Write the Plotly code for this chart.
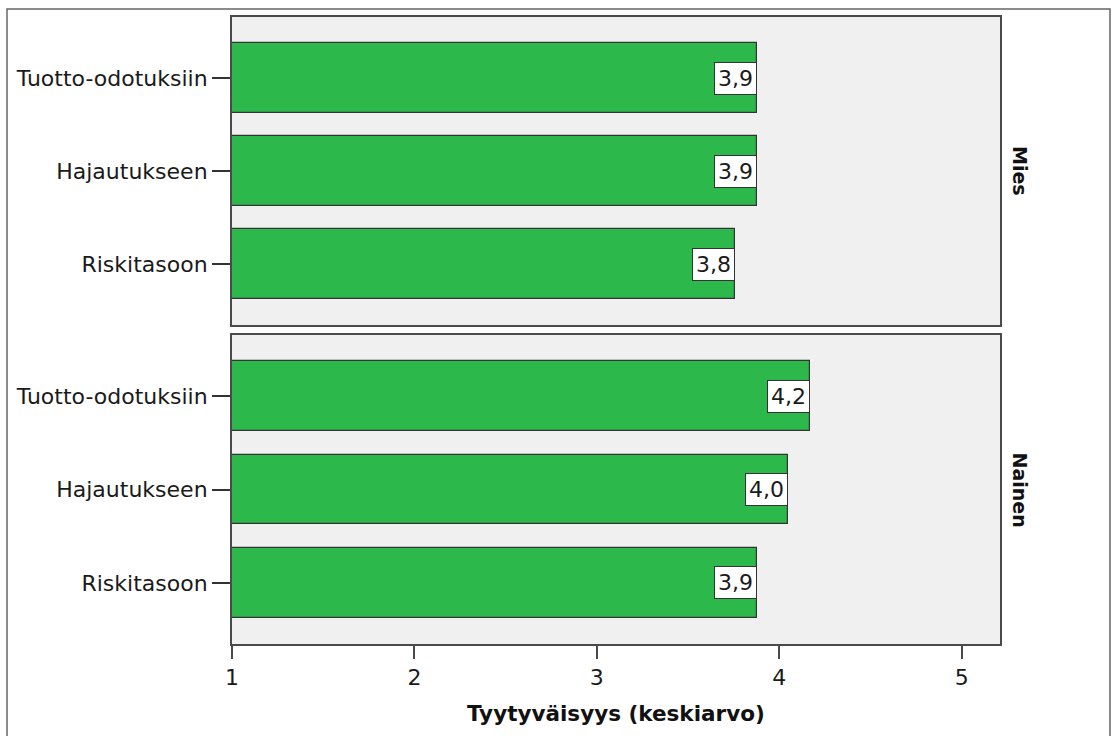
import plotly.graph_objects as go

categories = ["Riskitasoon", "Hajautukseen", "Tuotto-odotuksiin"]
panels = ["Mies", "Nainen"]
mies_values = [3.76, 3.88, 3.88]
nainen_values = [3.88, 4.05, 4.17]
x_ticks = [1, 2, 3, 4, 5]
x_title = "Tyytyväisyys (keskiarvo)"

W, H = 1112, 736
L, R, T, B = 232, 112, 17, 92
ph = H - T - B
top_dom = [(644 - 325) / ph, 1.0]
bot_dom = [0.0, (644 - 335) / ph]

FONT = "DejaVu Sans"
GREEN = "#2db84b"
EDGE = "#4a4a4a"

fig = go.Figure()
series = [(mies_values, "x2", "y2"), (nainen_values, "x", "y")]
for vals, xa, ya in series:
    fig.add_trace(go.Bar(
        x=[v - 1 for v in vals], y=categories, orientation="h", xaxis=xa, yaxis=ya,
        width=0.75, base=1,
        marker=dict(color=GREEN, line=dict(color="#333333", width=1.2)),
        showlegend=False, hoverinfo="skip",
    ))

annotations = []
for vals, xa, ya in series:
    for c, v in zip(categories, vals):
        annotations.append(dict(
            x=v, y=c, xref=xa, yref=ya, text=f"{v:.1f}".replace(".", ","),
            showarrow=False, xanchor="right", yanchor="middle",
            bgcolor="white", bordercolor="#333333", borderwidth=1, borderpad=3,
            font=dict(family=FONT, size=22, color="#1a1a1a"),
        ))

for name, ya in zip(panels, ["y2", "y"]):
    annotations.append(dict(
        x=(1020 - L) / (W - L - R), y=0.5, xref="paper", yref=f"{ya} domain",
        text=f"<b>{name}</b>", showarrow=False, textangle=90,
        xanchor="center", yanchor="middle",
        font=dict(family=FONT, size=19, color="#111111"),
    ))

annotations.append(dict(
    x=0.5, y=(644 - 713) / ph, xref="paper", yref="paper",
    text=f"<b>{x_title}</b>", showarrow=False, xanchor="center", yanchor="middle",
    font=dict(family=FONT, size=21.5, color="#111111"),
))

xrange = [1, 5.21]
yrange = [-0.656, 2.656]
ax_common = dict(showline=True, mirror=True, linecolor=EDGE, linewidth=2,
                 showgrid=False, zeroline=False)
tickfont = dict(family=FONT, size=22, color="#1a1a1a")

fig.update_layout(
    width=W, height=H,
    margin=dict(l=L, r=R, t=T, b=B),
    paper_bgcolor="white", plot_bgcolor="#f0f0f0",
    bargap=0,
    xaxis=dict(domain=[0, 1], anchor="y", range=xrange, tickvals=x_ticks,
               ticks="outside", ticklen=13, tickwidth=2, tickcolor=EDGE,
               tickfont=tickfont, **ax_common),
    xaxis2=dict(domain=[0, 1], anchor="y2", range=xrange, matches="x",
                showticklabels=False, ticks="", **ax_common),
    yaxis=dict(domain=bot_dom, anchor="x", range=yrange, type="category",
               categoryorder="array", categoryarray=categories,
               ticks="outside", ticklen=18, tickwidth=1.5, tickcolor="#333333",
               tickfont=tickfont, **ax_common),
    yaxis2=dict(domain=top_dom, anchor="x2", range=yrange, type="category",
                categoryorder="array", categoryarray=categories,
                ticks="outside", ticklen=18, tickwidth=1.5, tickcolor="#333333",
                tickfont=tickfont, **ax_common),
    annotations=annotations,
    shapes=[dict(type="rect", xref="paper", yref="paper",
                 x0=(7 - L) / (W - L - R), x1=(1110 - L) / (W - L - R),
                 y0=-0.3, y1=(644 - 9) / ph,
                 line=dict(color="#666666", width=1.5), fillcolor="rgba(0,0,0,0)",
                 layer="below")],
)

fig.write_html("out.html")
